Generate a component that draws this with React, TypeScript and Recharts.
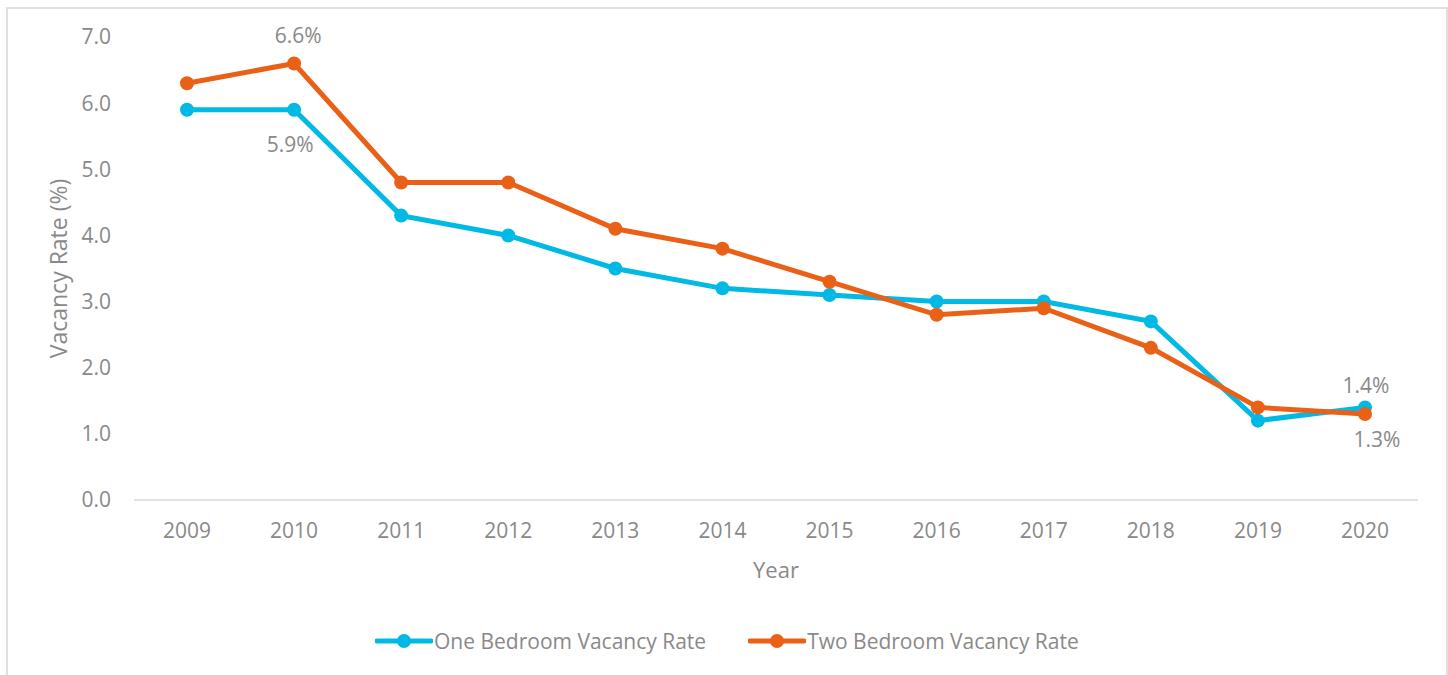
import { LineChart, Line, XAxis, YAxis, Legend, LabelList } from "recharts";

const years = ["2009", "2010", "2011", "2012", "2013", "2014", "2015", "2016", "2017", "2018", "2019", "2020"];
const oneBedroom = [5.9, 5.9, 4.3, 4.0, 3.5, 3.2, 3.1, 3.0, 3.0, 2.7, 1.2, 1.4];
const twoBedroom = [6.3, 6.6, 4.8, 4.8, 4.1, 3.8, 3.3, 2.8, 2.9, 2.3, 1.4, 1.3];
const yTicks = [0, 1, 2, 3, 4, 5, 6, 7];

const data = years.map((year, i) => ({ year, one: oneBedroom[i], two: twoBedroom[i] }));

const COLORS = {
  one: "#00b9e4",
  two: "#ea6017",
  text: "#898989",
  axis: "#d9d9d9",
  border: "#e0e0e0",
};

const FONT = "'Open Sans', sans-serif";

// which points carry a data label: [dx, dy] offset of the text baseline from the point
const oneLabels: Record<number, [number, number]> = { 1: [-4, 42], 11: [1, -14] };
const twoLabels: Record<number, [number, number]> = { 1: [4, -20], 11: [12, 33] };

function makeLabel(spec: Record<number, [number, number]>) {
  return (props: any) => {
    const { x, y, value, index } = props;
    const off = spec[index];
    if (!off) return null;
    return (
      <text
        x={x + off[0]}
        y={y + off[1]}
        textAnchor="middle"
        fill={COLORS.text}
        fontSize={21}
        fontFamily={FONT}
      >
        {Number(value).toFixed(1)}%
      </text>
    );
  };
}

function LegendBox() {
  const items = [
    { name: "One Bedroom Vacancy Rate", color: COLORS.one },
    { name: "Two Bedroom Vacancy Rate", color: COLORS.two },
  ];
  return (
    <div style={{ display: "flex", gap: 42, paddingLeft: 375, fontFamily: FONT, fontSize: 21, color: COLORS.text }}>
      {items.map((it) => (
        <div key={it.name} style={{ display: "flex", alignItems: "center" }}>
          <svg width={58} height={16}>
            <line x1={2} y1={8} x2={56} y2={8} stroke={it.color} strokeWidth={5} strokeLinecap="round" />
            <circle cx={29} cy={8} r={7} fill={it.color} />
          </svg>
          <span style={{ marginLeft: 1 }}>{it.name}</span>
        </div>
      ))}
    </div>
  );
}

export default function App() {
  return (
    <div style={{ position: "absolute", left: 0, top: 0, width: 1448, height: 675, background: "#fff", overflow: "hidden" }}>
      <div
        style={{
          position: "absolute",
          left: 6,
          top: 7,
          width: 1442,
          height: 700,
          boxSizing: "border-box",
          border: `2px solid ${COLORS.border}`,
        }}
      />
      <div style={{ position: "absolute", left: 0, top: 0 }}>
        <LineChart width={1448} height={675} data={data} margin={{ top: 37, right: 30, bottom: 85, left: 0 }}>
          <XAxis
            dataKey="year"
            height={90}
            padding={{ left: 53, right: 53 }}
            axisLine={{ stroke: COLORS.axis, strokeWidth: 1.5 }}
            tickLine={false}
            tickMargin={17}
            tick={{ fontSize: 21, fill: COLORS.text, fontFamily: FONT }}
            label={{ value: "Year", position: "insideBottom", offset: 12, fontSize: 22, fill: COLORS.text, fontFamily: FONT }}
          />
          <YAxis
            width={134}
            domain={[0, 7]}
            ticks={yTicks}
            interval={0}
            axisLine={false}
            tickLine={false}
            tickMargin={17}
            tickFormatter={(v: number) => v.toFixed(1)}
            tick={{ fontSize: 21, fill: COLORS.text, fontFamily: FONT }}
            label={{
              content: (p: any) => {
                const vb = p.viewBox;
                const cx = vb.x + 58;
                const cy = vb.y + vb.height / 2;
                return (
                  <text
                    x={cx}
                    y={cy}
                    transform={`rotate(-90 ${cx} ${cy})`}
                    textAnchor="middle"
                    dominantBaseline="central"
                    fill={COLORS.text}
                    fontSize={23}
                    fontFamily={FONT}
                  >
                    Vacancy Rate (%)
                  </text>
                );
              },
            }}
          />
          <Legend
            layout="horizontal"
            verticalAlign="middle"
            wrapperStyle={{ top: 627, left: 0, width: 1448 }}
            content={() => <LegendBox />}
          />
          <Line
            dataKey="one"
            name="One Bedroom Vacancy Rate"
            stroke={COLORS.one}
            strokeWidth={5}
            dot={{ r: 7, fill: COLORS.one, stroke: COLORS.one, strokeWidth: 0 }}
            activeDot={false}
            isAnimationActive={false}
          >
            <LabelList dataKey="one" content={makeLabel(oneLabels)} />
          </Line>
          <Line
            dataKey="two"
            name="Two Bedroom Vacancy Rate"
            stroke={COLORS.two}
            strokeWidth={5}
            dot={{ r: 7, fill: COLORS.two, stroke: COLORS.two, strokeWidth: 0 }}
            activeDot={false}
            isAnimationActive={false}
          >
            <LabelList dataKey="two" content={makeLabel(twoLabels)} />
          </Line>
        </LineChart>
      </div>
    </div>
  );
}
